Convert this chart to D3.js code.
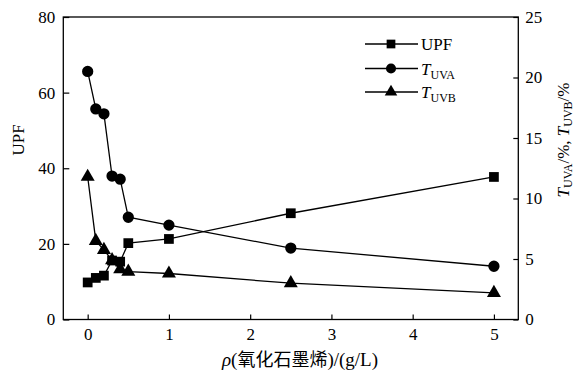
<!DOCTYPE html>
<html>
<head>
<meta charset="utf-8">
<script src="https://cdn.jsdelivr.net/npm/d3@7"></script>
<style>
  body { margin: 0; background: #fff; }
  svg text { font-family: "Liberation Serif", "Times New Roman", Times, "Nimbus Roman", serif; fill: #000; }
</style>
</head>
<body>
<figure id="chart" style="margin:0"></figure>
<script>
// graphene oxide concentration (g/L)
const conc = [0, 0.1, 0.2, 0.3, 0.4, 0.5, 1, 2.5, 5];
const upf  = [9.8, 11.0, 11.6, 15.6, 15.3, 20.2, 21.3, 28.1, 37.7];
const tUVA = [20.5, 17.4, 17.0, 11.85, 11.6, 8.45, 7.8, 5.9, 4.4];
const tUVB = [11.8, 6.5, 5.75, 4.9, 4.15, 3.95, 3.8, 3.0, 2.2];

const xTicks = [0, 1, 2, 3, 4, 5];
const leftTicks = [0, 20, 40, 60, 80];
const rightTicks = [0, 5, 10, 15, 20, 25];

const W = 578, H = 376;
const margin = {top: 17, right: 59.7, bottom: 56.5, left: 63.3};
const width = W - margin.left - margin.right;
const height = H - margin.top - margin.bottom;
const serif = '"Liberation Serif", "Times New Roman", Times, serif';

const svg = d3.select("#chart").append("svg")
  .attr("width", W).attr("height", H);
const g = svg.append("g")
  .attr("transform", "translate(" + margin.left + "," + margin.top + ")");

const x = d3.scaleLinear().domain([-0.3, 5.3]).range([0, width]);
const yL = d3.scaleLinear().domain([0, 80]).range([height, 0]);
const yR = d3.scaleLinear().domain([0, 25]).range([height, 0]);

// axes, ticks pointing inward
const fs = "17px";
const fmt = d3.format("d");
const gx = g.append("g").attr("transform", "translate(0," + height + ")")
  .call(d3.axisBottom(x).tickValues(xTicks).tickFormat(fmt).tickSizeInner(-5).tickSizeOuter(0).tickPadding(8));
const gl = g.append("g")
  .call(d3.axisLeft(yL).tickValues(leftTicks).tickFormat(fmt).tickSizeInner(-6).tickSizeOuter(0).tickPadding(8));
const gr = g.append("g").attr("transform", "translate(" + width + ",0)")
  .call(d3.axisRight(yR).tickValues(rightTicks).tickFormat(fmt).tickSizeInner(-5).tickSizeOuter(0).tickPadding(7));
[gx, gl, gr].forEach(a => {
  a.attr("font-family", null).attr("font-size", null);
  a.select(".domain").remove();
  a.selectAll("line").attr("stroke", "#000").attr("stroke-width", 1.2);
  a.selectAll("text").style("font-size", fs).style("font-family", serif);
});

// frame
g.append("rect").attr("width", width).attr("height", height)
  .attr("fill", "none").attr("stroke", "#000").attr("stroke-width", 1.3);

const series = [
  {name: "UPF", vals: upf, y: yL, sym: d3.symbolSquare, size: 95},
  {name: "TUVA", vals: tUVA, y: yR, sym: d3.symbolCircle, size: 100},
  {name: "TUVB", vals: tUVB, y: yR, sym: d3.symbolTriangle, size: 85}
];

series.forEach(s => {
  const pts = conc.map((c, i) => [c, s.vals[i]]);
  g.append("path").datum(pts)
    .attr("fill", "none").attr("stroke", "#000").attr("stroke-width", 1.3)
    .attr("d", d3.line().x(d => x(d[0])).y(d => s.y(d[1])));
  g.append("g").selectAll("path").data(pts).enter().append("path")
    .attr("transform", d => "translate(" + x(d[0]) + "," + s.y(d[1]) + ")")
    .attr("d", d3.symbol().type(s.sym).size(s.size))
    .attr("fill", "#000");
});

// legend
const leg = svg.append("g");
const legRows = [44, 68.5, 92];
series.forEach((s, i) => {
  const ly = legRows[i];
  leg.append("line").attr("x1", 365).attr("x2", 418).attr("y1", ly).attr("y2", ly)
    .attr("stroke", "#000").attr("stroke-width", 1.3);
  leg.append("path").attr("transform", "translate(391," + ly + ")")
    .attr("d", d3.symbol().type(s.sym).size(s.size * 0.8)).attr("fill", "#000");
  const t = leg.append("text").attr("x", 421).attr("y", ly + 6).style("font-size", fs);
  if (s.name === "UPF") {
    t.text("UPF");
  } else {
    t.append("tspan").style("font-style", "italic").text("T");
    t.append("tspan").attr("dy", 4).style("font-size", "12px").text(s.name.slice(1));
  }
});

// axis titles
svg.append("text")
  .attr("transform", "translate(24,140) rotate(-90)")
  .attr("text-anchor", "middle").style("font-size", fs).text("UPF");

const rt = svg.append("text")
  .attr("transform", "translate(569,140) rotate(-90)")
  .attr("text-anchor", "middle").style("font-size", fs);
rt.append("tspan").style("font-style", "italic").text("T");
rt.append("tspan").attr("dy", 3).style("font-size", "12px").text("UVA");
rt.append("tspan").attr("dy", -3).text("/%, ");
rt.append("tspan").style("font-style", "italic").text("T");
rt.append("tspan").attr("dy", 3).style("font-size", "12px").text("UVB");
rt.append("tspan").attr("dy", -3).text("/%");

const xt = svg.append("text")
  .attr("x", 300).attr("y", 366)
  .attr("text-anchor", "middle").style("font-size", "19px");
xt.append("tspan").style("font-style", "italic").text("ρ");
xt.append("tspan").text("(");
xt.append("tspan").style("font-family", "'Noto Sans CJK SC'").style("font-size", "18px").text("氧化石墨烯");
xt.append("tspan").text(")/(g/L)");
</script>
</body>
</html>
